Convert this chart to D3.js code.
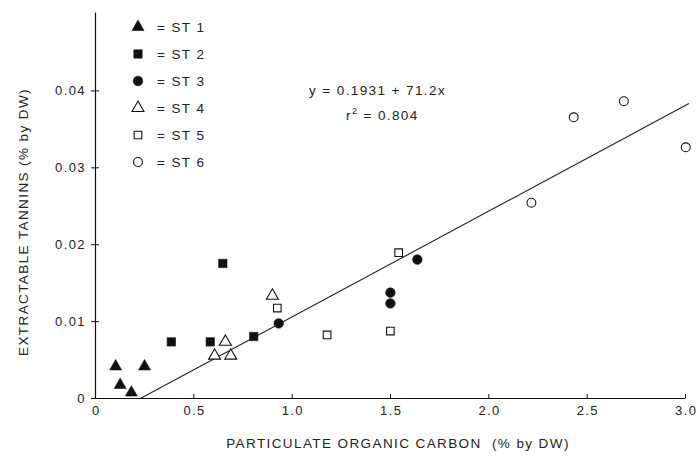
<!DOCTYPE html>
<html>
<head>
<meta charset="utf-8">
<script src="https://cdn.jsdelivr.net/npm/d3@7"></script>
<style>
  body { margin: 0; background: #fff; }
  svg text { font-family: "Liberation Sans", Arial, sans-serif; fill: #222; letter-spacing: 1.4px; }
</style>
</head>
<body>
<div id="chart"></div>
<script>
// stations and their samples (POC % DW, tannins % DW)
const stations = ['ST 1', 'ST 2', 'ST 3', 'ST 4', 'ST 5', 'ST 6'];
const st1X = [0.105, 0.252, 0.128, 0.185];
const st1Y = [0.0041, 0.0041, 0.0017, 0.0007];
const st2X = [0.65, 0.388, 0.586, 0.807];
const st2Y = [0.0175, 0.0073, 0.0073, 0.0080];
const st3X = [0.934, 1.502, 1.502, 1.639];
const st3Y = [0.0097, 0.0137, 0.0123, 0.0180];
const st4X = [0.902, 0.663, 0.608, 0.690];
const st4Y = [0.0133, 0.0073, 0.0055, 0.0055];
const st5X = [0.927, 1.18, 1.502, 1.544];
const st5Y = [0.0117, 0.0082, 0.0087, 0.0189];
const st6X = [2.219, 2.434, 2.689, 3.004];
const st6Y = [0.0254, 0.0365, 0.0386, 0.0326];
// fitted line end points
const fitX = [0.235, 3.02];
const fitY = [0.0, 0.0383];
const xTicks = [0, 0.5, 1.0, 1.5, 2.0, 2.5, 3.0];
const yTicks = [0, 0.01, 0.02, 0.03, 0.04];

const seriesX = [st1X, st2X, st3X, st4X, st5X, st6X];
const seriesY = [st1Y, st2Y, st3Y, st4Y, st5Y, st6Y];

const width = 696;
const height = 458;
const marginLeft = 95;
const marginRight = 11;
const marginTop = 12;
const marginBottom = 60;

const x = d3.scaleLinear().domain([0, 3.0]).range([marginLeft, width - marginRight]);
const y = d3.scaleLinear().domain([0, 0.0502]).range([height - marginBottom, marginTop]);

const svg = d3.select('#chart').append('svg')
  .attr('width', width)
  .attr('height', height);

// marker shapes: filled / open triangle, square, circle
const shapes = [
  { type: d3.symbolTriangle, size: 62, fill: true },
  { type: d3.symbolSquare, size: 70, fill: true },
  { type: d3.symbolCircle, size: 72, fill: true },
  { type: d3.symbolTriangle, size: 62, fill: false },
  { type: d3.symbolSquare, size: 58, fill: false },
  { type: d3.symbolCircle, size: 62, fill: false }
];

function drawMark(g, s) {
  g.append('path')
    .attr('d', d3.symbol().type(s.type).size(s.size)())
    .attr('fill', s.fill ? '#111' : '#fff')
    .attr('stroke', '#111')
    .attr('stroke-width', s.fill ? 0.6 : 1.1);
}

// axes
const xAxis = svg.append('g')
  .attr('transform', `translate(0,${y(0)})`)
  .call(d3.axisBottom(x).tickValues(xTicks).tickSizeInner(-4).tickSizeOuter(0)
    .tickFormat(d => d === 0 ? '0' : d.toFixed(1)));
xAxis.selectAll('text').attr('dy', '1.1em').attr('dx', '0.7px').style('font-size', '13px');

const yAxis = svg.append('g')
  .attr('transform', `translate(${x(0)},0)`)
  .call(d3.axisLeft(y).tickValues(yTicks).tickSize(4).tickSizeOuter(0)
    .tickFormat(d => d === 0 ? '0' : d.toFixed(2)));
yAxis.selectAll('text').attr('x', -9).style('font-size', '13px');
yAxis.selectAll('.tick line').attr('x2', 4).attr('x1', -4);

svg.selectAll('.domain').attr('stroke', '#111').attr('stroke-width', 1.2);
svg.selectAll('.tick line').attr('stroke', '#111');

// regression line
svg.append('line')
  .attr('x1', x(fitX[0])).attr('y1', y(fitY[0]))
  .attr('x2', x(fitX[1])).attr('y2', y(fitY[1]))
  .attr('stroke', '#222')
  .attr('stroke-width', 1.1);

// points
seriesX.forEach((xs, i) => {
  xs.forEach((v, j) => {
    const g = svg.append('g').attr('transform', `translate(${x(v)},${y(seriesY[i][j])})`);
    drawMark(g, shapes[i]);
  });
});

// legend
const legend = svg.append('g').attr('transform', 'translate(138,27)');
stations.forEach((name, i) => {
  const row = legend.append('g').attr('transform', `translate(0,${i * 27})`);
  drawMark(row, shapes[i]);
  row.append('text')
    .attr('x', 19)
    .attr('y', 5)
    .style('font-size', '13.5px')
    .text('= ' + name);
});

// equation
svg.append('text')
  .attr('x', 309).attr('y', 95)
  .style('font-size', '13.5px')
  .text('y = 0.1931 + 71.2x');
const r2 = svg.append('text')
  .attr('x', 346).attr('y', 120)
  .style('font-size', '13.5px');
r2.append('tspan').text('r');
r2.append('tspan').attr('dy', -6).style('font-size', '9px').text('2');
r2.append('tspan').attr('dy', 6).text(' = 0.804');

// axis titles
svg.append('text')
  .attr('x', 398).attr('y', 448)
  .attr('text-anchor', 'middle')
  .style('font-size', '13.5px')
  .attr('xml:space', 'preserve')
  .text('PARTICULATE ORGANIC CARBON  (% by DW)');

svg.append('text')
  .attr('transform', 'translate(28,222) rotate(-90)')
  .attr('text-anchor', 'middle')
  .style('font-size', '13.5px')
  .text('EXTRACTABLE TANNINS (% by DW)');
</script>
</body>
</html>
